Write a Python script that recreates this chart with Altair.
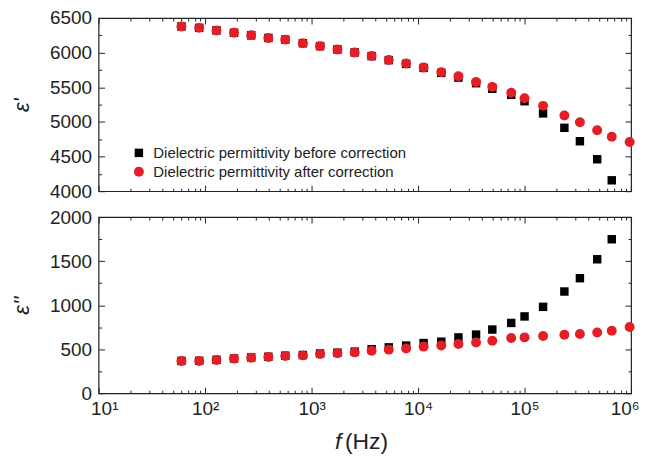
import altair as alt
import pandas as pd

# ---- data ----
freq = [60, 88, 128, 187, 271, 393, 566, 829, 1202, 1750, 2542, 3664, 5311, 7727,
        11280, 16520, 23940, 35060, 49800, 74950, 100000, 149300, 236600, 331000,
        481000, 659000, 970000]

eps1_before = [6378, 6358, 6321, 6287, 6250, 6212, 6188, 6136, 6094, 6046, 6003, 5950,
               5892, 5838, 5780, 5708, 5640, 5559, 5478, 5392, 5299, 5123, 4915, 4721,
               4461, 4157]
eps1_after = [6378, 6358, 6321, 6287, 6250, 6212, 6188, 6136, 6094, 6046, 6003, 5952,
              5895, 5843, 5786, 5719, 5658, 5577, 5506, 5421, 5341, 5232, 5094, 4995,
              4881, 4787, 4711]

eps2_before = [367, 368, 379, 394, 406, 414, 426, 434, 451, 460, 472, 500, 521, 541,
               570, 585, 634, 666, 723, 798, 872, 981, 1155, 1306, 1521, 1748]
eps2_after = [367, 367, 378, 393, 404, 412, 423, 430, 446, 453, 464, 483, 495, 509,
              529, 543, 559, 577, 597, 627, 634, 650, 664, 672, 690, 710, 752]

series = ["Dielectric permittivity before correction",
          "Dielectric permittivity after correction"]

x_major = [10, 100, 1000, 10000, 100000, 1000000]
x_minor = [m * 10 ** k for k in range(1, 6) for m in range(2, 10)]

top_major = [4000, 4500, 5000, 5500, 6000, 6500]
top_minor = [4250, 4750, 5250, 5750, 6250]
bot_major = [0, 500, 1000, 1500, 2000]
bot_minor = [250, 750, 1250, 1750]

FONT = "Liberation Sans"
W = 535
H_TOP = 174
H_BOT = 177
INK = "#222222"


def long_df(before, after):
    rows = []
    for f, v in zip(freq, before):
        rows.append({"f": f, "v": v, "s": series[0]})
    for f, v in zip(freq, after):
        rows.append({"f": f, "v": v, "s": series[1]})
    return pd.DataFrame(rows)


def tick_axis(orient, offset, values, size):
    return alt.Axis(orient=orient, offset=offset, values=values, tickSize=size,
                    labels=False, domain=False, grid=False, title=None,
                    tickColor=INK, tickWidth=1)


def panel(df, ydom, ymaj, ymin, ytitle, H, bottom):
    xs = alt.Scale(type="log", domain=[10, 1000000], nice=False)
    ys = alt.Scale(domain=ydom, nice=False, zero=False)

    if bottom:
        xlab = alt.Axis(orient="bottom", values=x_major,
                        labelExpr="'10' + ['⁰','¹','²','³','⁴','⁵','⁶'][round(log(datum.value)/LN10)]",
                        ticks=False, domain=False, grid=False,
                        labelFlush=True, labelFlushOffset=8,
                        labelFont=FONT, labelFontSize=19, labelPadding=6, labelColor=INK,
                        title="(Hz)", titleFont=FONT, titleFontSize=23,
                        titleFontWeight="normal", titleColor=INK,
                        titleAlign="left", titleBaseline="alphabetic",
                        titleX=247, titleY=56)
        leg = None
    else:
        xlab = alt.Axis(orient="bottom", values=x_major, labels=False, ticks=False,
                        domain=False, grid=False, title=None)
        leg = alt.Legend(title=None, orient="none", legendX=33, legendY=128,
                         labelFont=FONT, labelFontSize=15, labelColor=INK,
                         labelLimit=0, symbolSize=80, rowPadding=3, labelOffset=7,
                         padding=0, symbolStrokeWidth=0)

    ylab = alt.Axis(orient="left", values=ymaj, format="d", ticks=False, domain=False,
                    grid=False, labelFont=FONT, labelFontSize=19, labelPadding=7,
                    labelColor=INK, title=ytitle, titleFont=FONT, titleFontSize=22,
                    titleFontStyle="italic", titleFontWeight="normal", titleColor=INK,
                    titlePadding=16)

    main = alt.Chart(df).mark_point(filled=True, opacity=1).encode(
        x=alt.X("f:Q", scale=xs, axis=xlab),
        y=alt.Y("v:Q", scale=ys, axis=ylab),
        color=alt.Color("s:N", scale=alt.Scale(domain=series, range=["#000000", "#e41e26"]),
                        legend=leg),
        shape=alt.Shape("s:N", scale=alt.Scale(domain=series, range=["square", "circle"]),
                        legend=leg),
        size=alt.Size("s:N", scale=alt.Scale(domain=series, range=[72, 100]), legend=None),
    )

    def ghost(xaxis, yaxis):
        return alt.Chart(df).mark_point(opacity=0).encode(
            x=alt.X("f:Q", scale=xs, axis=xaxis),
            y=alt.Y("v:Q", scale=ys, axis=yaxis),
        )

    layers = [
        main,
        ghost(tick_axis("top", -H, x_major, 6), tick_axis("right", -W, ymaj, 6)),
        ghost(tick_axis("top", -H, x_minor, 3), tick_axis("right", -W, ymin, 3)),
        ghost(tick_axis("bottom", -H, x_major, 6), tick_axis("left", -W, ymaj, 6)),
        ghost(tick_axis("bottom", -H, x_minor, 3), tick_axis("left", -W, ymin, 3)),
    ]
    if bottom:
        f_axis = alt.Axis(orient="bottom", labels=False, ticks=False, domain=False,
                          grid=False, title="f", titleFont=FONT, titleFontSize=23,
                          titleFontStyle="italic", titleFontWeight="normal",
                          titleColor=INK, titleAlign="left",
                          titleBaseline="alphabetic", titleX=237, titleY=56)
        layers.append(ghost(f_axis, None))

    return alt.layer(*layers).resolve_axis(x="independent", y="independent").properties(
        width=W, height=H)


top = panel(long_df(eps1_before, eps1_after), [4000, 6500], top_major, top_minor,
            "ε'", H_TOP, False)
bot = panel(long_df(eps2_before, eps2_after), [0, 2000], bot_major, bot_minor,
            "ε''", H_BOT, True)

chart = alt.vconcat(top, bot, spacing=5).resolve_scale(
    color="independent", shape="independent", size="independent"
).configure_view(stroke=INK, strokeWidth=1.2).properties(
    padding={"left": 2, "top": -1, "right": 0, "bottom": 0}
)

chart.save("out.html", embed_options={"renderer": "svg", "actions": False})
